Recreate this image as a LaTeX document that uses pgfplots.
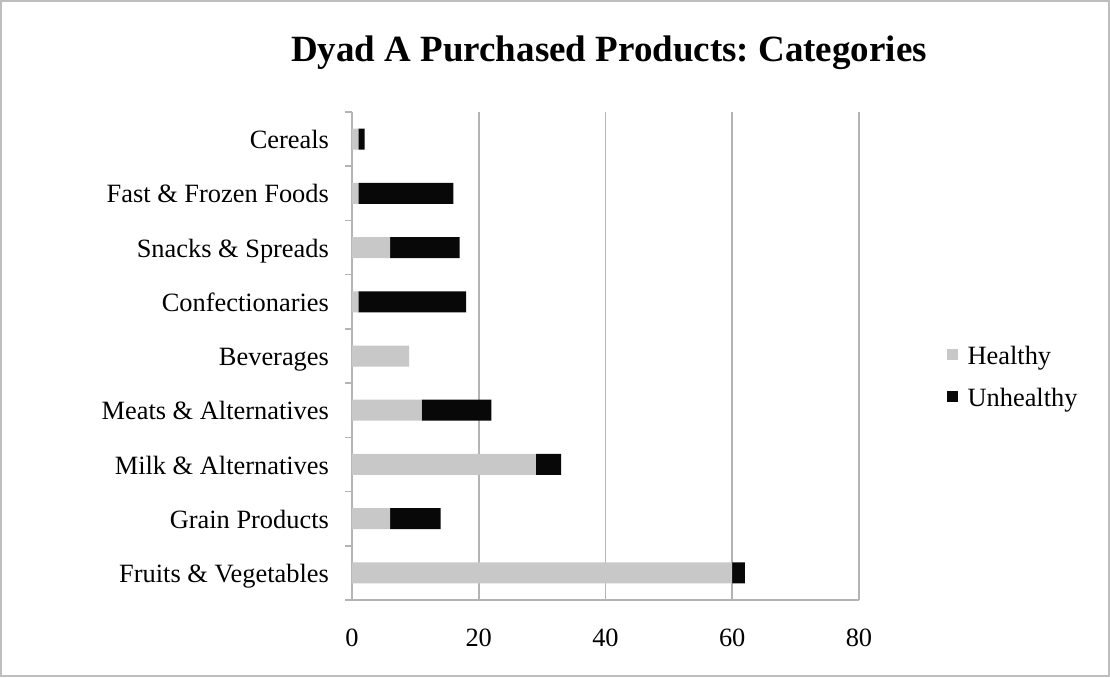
\documentclass[border=0pt]{standalone}
\usepackage{fontspec}
\setmainfont{Liberation Serif}
\usepackage{pgfplots}
\pgfplotsset{compat=1.18}
\usepackage{pgfplotstable}

\definecolor{healthy}{HTML}{C8C8C8}
\definecolor{unhealthy}{HTML}{080808}
\definecolor{gridgray}{HTML}{B4B4B4}
\definecolor{framegray}{HTML}{BEBEBE}

% category index, healthy count, unhealthy count
\pgfplotstableread{
idx healthy unhealthy
0 60 2
1 6 8
2 29 4
3 11 11
4 9 0
5 1 17
6 6 11
7 1 15
8 1 1
}\purchases

\begin{document}
\frenchspacing
\begin{tikzpicture}
% outer frame of the chart area
\path (-176pt,-38.5pt) rectangle (379pt,300pt);
\draw[framegray, line width=1pt] (-175.5pt,-38pt) rectangle (378.5pt,299.5pt);
\begin{axis}[
  at={(0,0)}, anchor=south west,
  scale only axis,
  width=253.5pt, height=244pt,
  xbar stacked,
  bar width=10.5pt,
  xmin=0, xmax=80,
  ymin=-0.5, ymax=8.5,
  xtick={0,20,40,60,80},
  ytick={0,...,8},
  yticklabels={Fruits \& Vegetables, Grain Products, Milk \& Alternatives,
    Meats \& Alternatives, Beverages, Confectionaries, Snacks \& Spreads,
    Fast \& Frozen Foods, Cereals},
  minor ytick={-0.5,0.5,...,8.5},
  axis x line*=bottom,
  axis y line*=left,
  axis line style={gridgray, line width=0.8pt},
  xmajorgrids,
  major grid style={gridgray, line width=0.8pt},
  major tick length=0pt,
  minor tick length=3.5pt,
  tick align=outside,
  minor tick style={gridgray, line width=0.8pt},
  tick label style={font=\fontsize{13.2}{15}\selectfont},
  /pgf/number format/assume math mode=true,
  yticklabel style={anchor=east, text height=9pt, text depth=3pt, xshift=-8pt, yshift=-1.8pt},
  xticklabel style={yshift=-11pt},
  title={Dyad A Purchased Products: Categories},
  title style={font=\fontsize{18.5}{21}\selectfont\bfseries, at={(rel axis cs:0.507,1.096)}, anchor=center},
  legend style={draw=none, fill=none, at={(rel axis cs:1.172,0.455)}, anchor=west,
    font=\fontsize{13.2}{15}\selectfont, row sep=6pt, inner sep=0pt,
    nodes={inner xsep=5pt}},
  legend cell align=left,
  legend image code/.code={\fill[#1] (0pt,-1.5pt) rectangle (5.5pt,4pt);},
]
\addplot[fill=healthy, draw=none] table[x=healthy, y=idx] {\purchases};
\addlegendentry{Healthy}
\addplot[fill=unhealthy, draw=none] table[x=unhealthy, y=idx] {\purchases};
\addlegendentry{Unhealthy}
\end{axis}
\end{tikzpicture}
\end{document}
